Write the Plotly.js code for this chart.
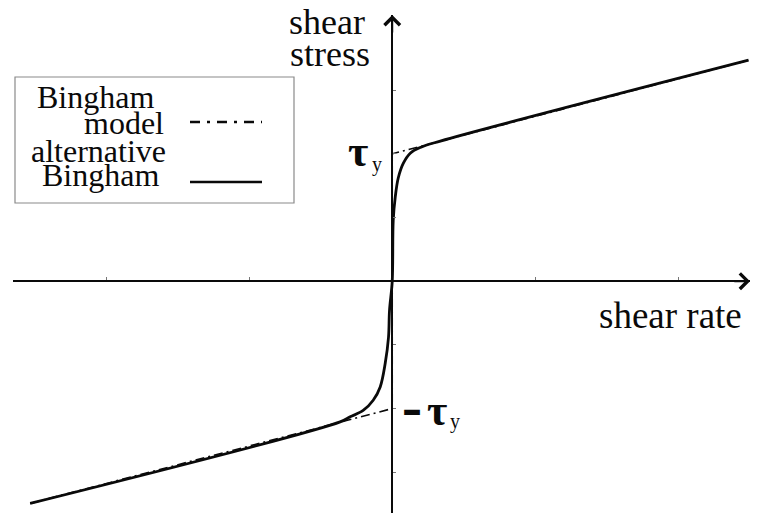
<!DOCTYPE html>
<html>
<head>
<meta charset="utf-8">
<script src="https://cdn.plot.ly/plotly-3.0.1.min.js"></script>
<style>
  html, body { margin: 0; padding: 0; background: #fff; }
  #chart { width: 762px; height: 513px; }
</style>
</head>
<body>
<div id="chart"></div>
<script>
// Yield stress (in y tick units)
const tauY = 2;

// Bingham model: rigid below the yield stress, linear above it
const binghamX = [-2.53, 0, 0, 2.49];
const binghamY = [-3.49, -tauY, tauY, 3.47];

// Alternative (regularised) Bingham curve
const altX = [-2.53, -0.364, -0.294, -0.203, -0.133, -0.084, -0.049, -0.026, -0.019, 0,
              0.007, 0.021, 0.042, 0.077, 0.126, 0.196, 0.336, 2.49];
const altY = [-3.49, -2.21, -2.13, -2.03, -1.87, -1.66, -1.29, -0.88, -0.46, 0,
              0.96, 1.32, 1.62, 1.85, 2.01, 2.10, 2.20, 3.47];

// Axis tick positions
const xTicks = [-2, -1, 1, 2];
const yTicks = [-3, -2, -1, 1, 2, 3];

const W = 762, H = 513;
const M = { l: 13, r: 12, t: 15, b: 0 };
const xRange = [-2.65, 2.50];
const yRange = [-3.64, 4.18];

// pixel <-> data helpers for placing text
const pw = W - M.l - M.r, ph = H - M.t - M.b;
const px2x = p => xRange[0] + (p - M.l) / pw * (xRange[1] - xRange[0]);
const py2y = p => yRange[1] - (p - M.t) / ph * (yRange[1] - yRange[0]);
const x2paper = x => (x - xRange[0]) / (xRange[1] - xRange[0]);
const y2paper = y => (y - yRange[0]) / (yRange[1] - yRange[0]);

const serif = '"Liberation Serif", "Times New Roman", serif';
const ink = '#0a0a0a';

const traces = [
  {
    x: altX, y: altY, type: 'scatter', mode: 'lines',
    line: { color: ink, width: 2.8, shape: 'spline', smoothing: 1 },
    hoverinfo: 'skip', showlegend: false
  },
  {
    x: binghamX, y: binghamY, type: 'scatter', mode: 'lines',
    line: { color: ink, width: 1.6, dash: '9px,4px,2px,4px' },
    hoverinfo: 'skip', showlegend: false
  }
];

function label(text, xp, yp, size, xanchor, extra) {
  return Object.assign({
    text: text, x: px2x(xp), y: py2y(yp), xref: 'x', yref: 'y',
    xanchor: xanchor || 'center', yanchor: 'middle', showarrow: false,
    font: { family: serif, size: size, color: ink }
  }, extra || {});
}

function arrowTip(x, y, ax, ay) {
  return {
    x: x, y: y, ax: ax, ay: ay, xref: 'x', yref: 'y', axref: 'x', ayref: 'y',
    text: '', showarrow: true, arrowhead: 4, arrowsize: 1.5, arrowwidth: 2,
    arrowcolor: ink, standoff: 0
  };
}

// vertical pixel of the yield stress levels
const tauPx = M.t + (yRange[1] - tauY) / (yRange[1] - yRange[0]) * ph;
const negTauPx = M.t + (yRange[1] + tauY) / (yRange[1] - yRange[0]) * ph;

const annotations = [
  // axis arrowheads
  arrowTip(xRange[1], 0, xRange[1] - 0.12, 0),
  arrowTip(0, yRange[1], 0, yRange[1] - 0.3),
  // axis titles
  label('shear', 327, 22, 36),
  label('stress', 330, 54, 36),
  label('shear rate', 670, 315, 37),
  // yield stress labels
  label('<b>τ</b>', 358, tauPx - 2, 44),
  label('y', 377, tauPx + 11, 20),
  label('<b>–</b>', 412, negTauPx + 1, 40, 'center', { font: { family: 'DejaVu Sans', size: 40, color: ink } }),
  label('<b>τ</b>', 437, negTauPx + 2, 44),
  label('y', 455, negTauPx + 13, 20),
  // legend text
  label('Bingham', 156, 97, 32, 'right'),
  label('model', 166, 123, 32, 'right'),
  label('alternative', 168, 151, 32, 'right'),
  label('Bingham', 161, 175, 32, 'right')
];

const shapes = [
  // legend frame
  { type: 'rect', xref: 'x', yref: 'y', x0: px2x(15), x1: px2x(294), y0: py2y(77), y1: py2y(203),
    line: { color: '#8a8a8a', width: 1.2 }, fillcolor: 'rgba(255,255,255,0)' },
  // legend samples
  { type: 'line', xref: 'x', yref: 'y', x0: px2x(190), x1: px2x(262), y0: py2y(122), y1: py2y(122),
    line: { color: ink, width: 2.4, dash: '10px,7px,3px,7px' } },
  { type: 'line', xref: 'x', yref: 'y', x0: px2x(190), x1: px2x(262), y0: py2y(182), y1: py2y(182),
    line: { color: ink, width: 2.4 } }
];

const layout = {
  width: W, height: H,
  margin: M,
  paper_bgcolor: '#fff', plot_bgcolor: '#fff',
  showlegend: false,
  xaxis: {
    range: xRange, anchor: 'free', position: y2paper(0), side: 'top',
    showline: true, linecolor: ink, linewidth: 2,
    ticks: 'outside', tickvals: xTicks, ticklen: 3, tickwidth: 1, tickcolor: '#777',
    showticklabels: false, showgrid: false, zeroline: false, fixedrange: true
  },
  yaxis: {
    range: yRange, anchor: 'free', position: x2paper(0), side: 'right',
    showline: true, linecolor: ink, linewidth: 2,
    ticks: 'outside', tickvals: yTicks, ticklen: 3, tickwidth: 1, tickcolor: '#777',
    showticklabels: false, showgrid: false, zeroline: false, fixedrange: true
  },
  annotations: annotations,
  shapes: shapes
};

Plotly.newPlot('chart', traces, layout, { staticPlot: true, displayModeBar: false });
</script>
</body>
</html>
